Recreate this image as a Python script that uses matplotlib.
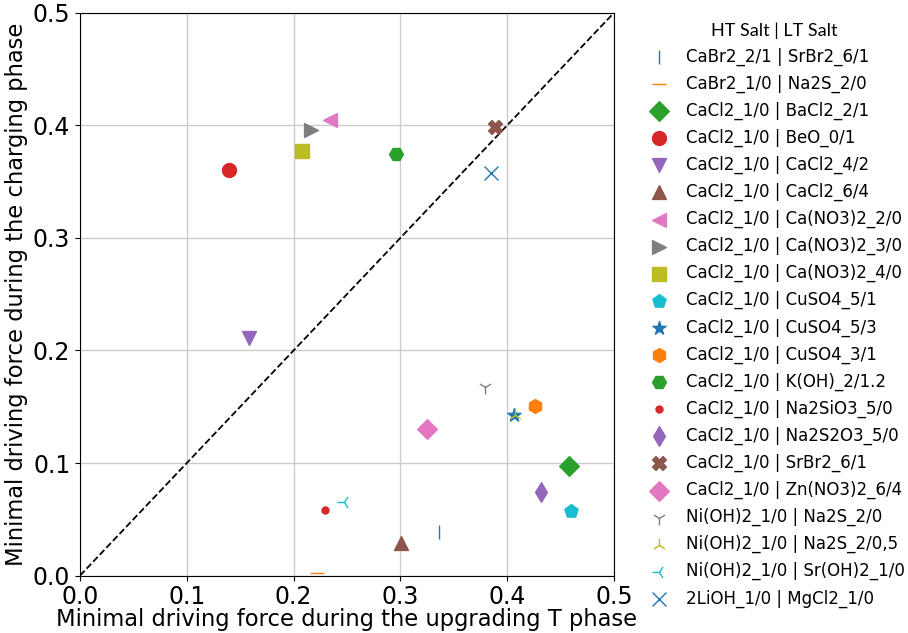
import matplotlib
matplotlib.use("Agg")
import matplotlib.pyplot as plt
import numpy as np

# HT salt | LT salt pairs
labels = ["CaBr2_2/1 | SrBr2_6/1", "CaBr2_1/0 | Na2S_2/0", "CaCl2_1/0 | BaCl2_2/1",
          "CaCl2_1/0 | BeO_0/1", "CaCl2_1/0 | CaCl2_4/2", "CaCl2_1/0 | CaCl2_6/4",
          "CaCl2_1/0 | Ca(NO3)2_2/0", "CaCl2_1/0 | Ca(NO3)2_3/0", "CaCl2_1/0 | Ca(NO3)2_4/0",
          "CaCl2_1/0 | CuSO4_5/1", "CaCl2_1/0 | CuSO4_5/3", "CaCl2_1/0 | CuSO4_3/1",
          "CaCl2_1/0 | K(OH)_2/1.2", "CaCl2_1/0 | Na2SiO3_5/0", "CaCl2_1/0 | Na2S2O3_5/0",
          "CaCl2_1/0 | SrBr2_6/1", "CaCl2_1/0 | Zn(NO3)2_6/4", "Ni(OH)2_1/0 | Na2S_2/0",
          "Ni(OH)2_1/0 | Na2S_2/0,5", "Ni(OH)2_1/0 | Sr(OH)2_1/0", "2LiOH_1/0 | MgCl2_1/0"]

# minimal driving force, upgrading T phase
upgrading = [0.336, 0.222, 0.458, 0.140, 0.158, 0.301, 0.234, 0.216, 0.208,
             0.460, 0.406, 0.426, 0.296, 0.229, 0.432, 0.389, 0.325, 0.379,
             0.407, 0.247, 0.385]
# minimal driving force, charging phase
charging = [0.039, 0.002, 0.097, 0.360, 0.211, 0.029, 0.405, 0.396, 0.377,
            0.057, 0.143, 0.151, 0.375, 0.058, 0.074, 0.399, 0.130, 0.168,
            0.143, 0.065, 0.358]

markers = ["|", "_", "D", "o", "v", "^", "<", ">", "s", "p", "*", "h", "H", ".",
           "d", "X", "D", "1", "2", "3", "x"]
colors = ["tab:blue", "tab:orange", "tab:green", "tab:red", "tab:purple", "tab:brown",
          "tab:pink", "tab:gray", "tab:olive", "tab:cyan"] * 3

fig = plt.figure(figsize=(9.08, 6.33), dpi=100)
ax = fig.add_axes([0.0881, 0.0907, 0.588, 0.889])

for i in range(len(labels)):
    ax.scatter(upgrading[i], charging[i], marker=markers[i], color=colors[i],
               s=100, linewidths=1.0, label=labels[i], zorder=3)

ax.plot([0, 0.5], [0, 0.5], "k--", lw=1.3, zorder=2)
ax.set_xlim(0, 0.5)
ax.set_ylim(0, 0.5)
ax.set_xticks(np.arange(0, 0.51, 0.1))
ax.set_yticks(np.arange(0, 0.51, 0.1))
ax.tick_params(labelsize=17)
ax.grid(color="#cccccc", lw=1)
ax.set_axisbelow(True)
ax.set_xlabel("Minimal driving force during the upgrading T phase", fontsize=16.3, labelpad=-1)
ax.set_ylabel("Minimal driving force during the charging phase", fontsize=16.3, labelpad=3)

leg = ax.legend(loc="upper left", bbox_to_anchor=(0.7005, 0.975), bbox_transform=fig.transFigure,
                frameon=False, fontsize=12, scatterpoints=1, labelspacing=0.53,
                handletextpad=0.6, borderaxespad=0,
                title="HT Salt | LT Salt", title_fontproperties={"family": "Lato", "size": 13})
leg._legend_box.sep = 6

plt.savefig("out.png", dpi=100)
